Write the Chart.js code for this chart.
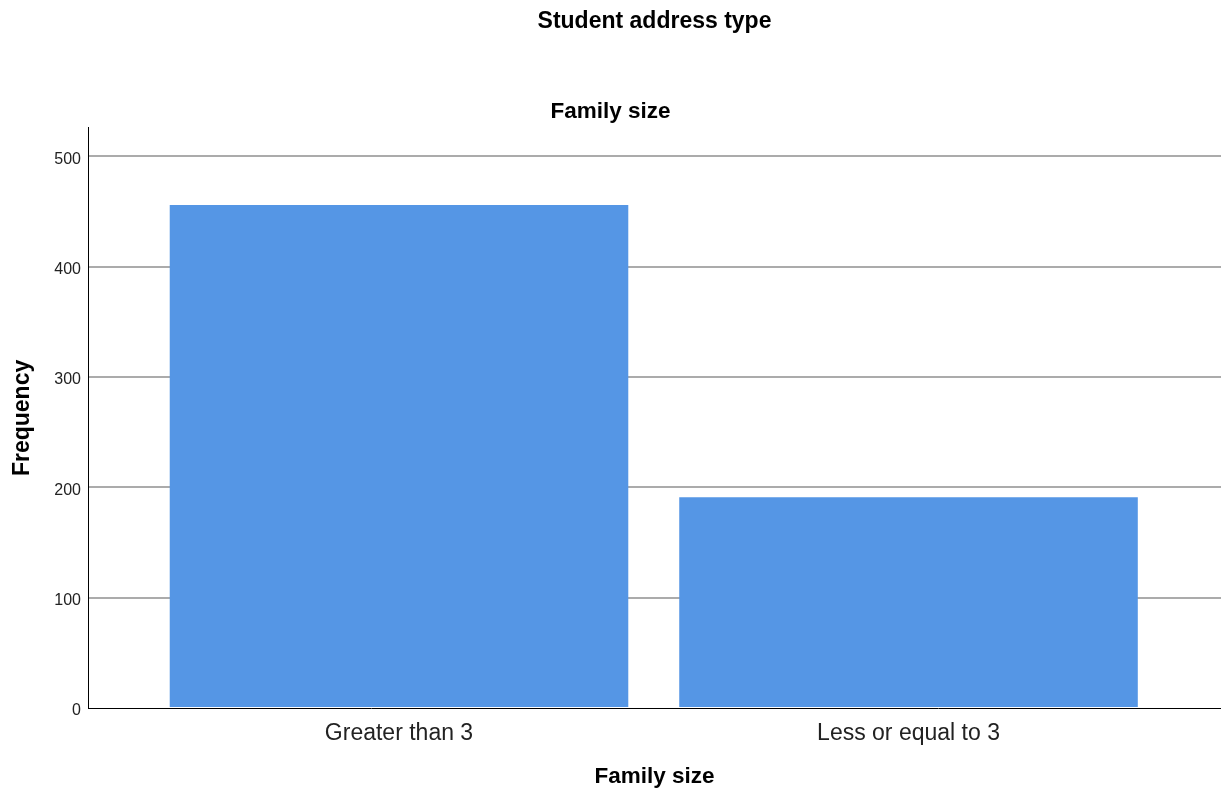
<!DOCTYPE html>
<html>
<head>
<meta charset="utf-8">
<script src="https://cdn.jsdelivr.net/npm/chart.js@4"></script>
<style>
  html, body { margin: 0; padding: 0; background: #fff; }
  #wrap { width: 1221px; height: 798px; }
</style>
</head>
<body>
<div id="wrap"><canvas id="freqChart"></canvas></div>
<script>
// Frequency of family size
const categories = ['Greater than 3', 'Less or equal to 3'];
const frequencies = [456, 191];
const yTicks = [0, 100, 200, 300, 400, 500];

const FONT = '"Liberation Sans", Arial, sans-serif';

const ctx = document.getElementById('freqChart').getContext('2d');

const freqChart = new Chart(ctx, {
  type: 'bar',
  data: {
    datasets: [
      {
        label: 'Frequency',
        data: categories.map((c, i) => ({ x: i, y: frequencies[i] })),
        backgroundColor: 'rgb(85, 150, 229)',
        borderWidth: 0,
        barPercentage: 0.9,
        categoryPercentage: 1.0
      }
    ]
  },
  options: {
    responsive: true,
    maintainAspectRatio: false,
    animation: false,
    layout: { padding: 0 },
    plugins: {
      legend: { display: false },
      tooltip: { enabled: false },
      title: {
        display: true,
        text: 'Student address type',
        fullSize: false,
        color: '#000',
        font: { family: FONT, size: 23, weight: 'bold' },
        padding: { top: 7.7, bottom: 63 }
      },
      subtitle: {
        display: true,
        text: 'Family size',
        fullSize: true,
        color: '#000',
        font: { family: FONT, size: 22.5, weight: 'bold' },
        padding: { top: 0, bottom: 2.5 }
      }
    },
    scales: {
      x: {
        type: 'linear',
        min: -0.6104,
        max: 1.6133,
        offset: false,
        afterBuildTicks: (axis) => { axis.ticks = categories.map((c, i) => ({ value: i })); },
        ticks: {
          autoSkip: false,
          maxRotation: 0,
          padding: 12,
          color: '#222',
          font: { family: FONT, size: 23 },
          callback: (v) => categories[v] ?? ''
        },
        grid: { display: false, drawTicks: false, offset: false },
        border: { display: true, color: '#000', width: 1 },
        title: {
          display: true,
          text: 'Family size',
          color: '#000',
          font: { family: FONT, size: 22.5, weight: 'bold' },
          padding: { top: 0, bottom: 7.5 }
        },
        afterFit: (axis) => { axis.height = 90; }
      },
      y: {
        min: 0,
        max: 526,
        afterBuildTicks: (axis) => { axis.ticks = yTicks.map(v => ({ value: v })); },
        ticks: {
          padding: 7,
          labelOffset: 3,
          color: '#222',
          font: { family: FONT, size: 16 }
        },
        grid: {
          drawTicks: false,
          lineWidth: 2,
          color: (c) => (c.tick && c.tick.value === 0 ? 'rgba(0,0,0,0)' : '#ababab')
        },
        border: { display: true, color: '#000', width: 1 },
        title: {
          display: true,
          text: 'Frequency',
          color: '#000',
          font: { family: FONT, size: 23, weight: 'bold' },
          padding: { top: 9, bottom: 0 }
        },
        afterFit: (axis) => { axis.width = 88; }
      }
    }
  }
});
</script>
</body>
</html>
